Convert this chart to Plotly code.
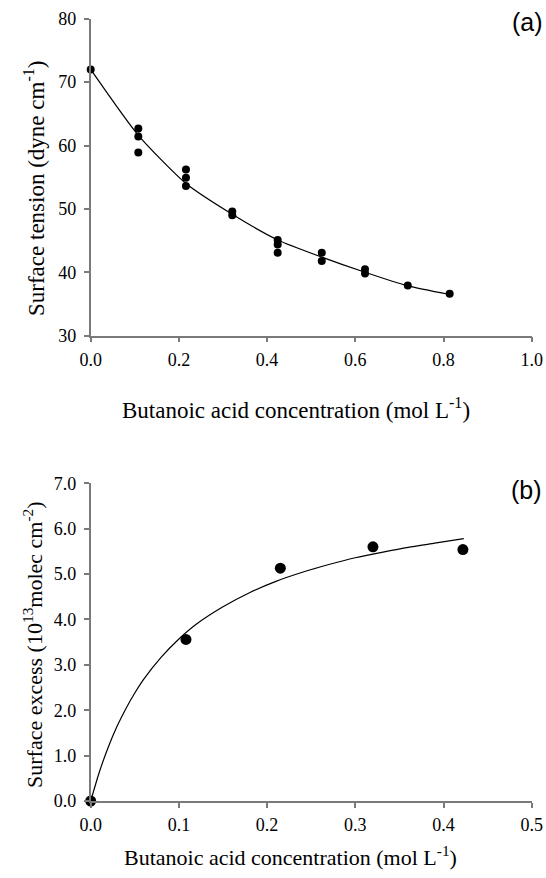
import plotly.graph_objects as go

# ---- Panel (a): surface tension ----
a_conc = [0.0, 0.108, 0.108, 0.108, 0.216, 0.216, 0.216, 0.321, 0.321,
          0.424, 0.424, 0.424, 0.524, 0.524, 0.622, 0.622, 0.719, 0.814]
a_tension = [72.0, 62.7, 61.4, 58.9, 56.2, 54.9, 53.6, 49.6, 49.0,
             45.1, 44.4, 43.1, 43.1, 41.8, 40.5, 39.8, 37.9, 36.6]
a_fit_conc = [0.0, 0.108, 0.216, 0.321, 0.424, 0.524, 0.622, 0.719, 0.814]
a_fit_tension = [72.0, 61.6, 54.0, 49.15, 45.1, 42.4, 40.0, 37.85, 36.5]

# ---- Panel (b): surface excess ----
b_conc = [0.0, 0.108, 0.215, 0.320, 0.422]
b_excess = [0.0, 3.56, 5.13, 5.60, 5.54]
b_fit_conc = [0.0, 0.01, 0.02, 0.03, 0.04, 0.05, 0.06, 0.08, 0.10, 0.12, 0.15,
              0.18, 0.21, 0.24, 0.27, 0.30, 0.33, 0.36, 0.39, 0.423]
b_fit_excess = [0.0, 0.65, 1.19, 1.65, 2.04, 2.38, 2.68, 3.17, 3.57, 3.90, 4.28,
                4.59, 4.84, 5.04, 5.21, 5.36, 5.48, 5.59, 5.68, 5.78]

a_xticks = [0.0, 0.2, 0.4, 0.6, 0.8, 1.0]
a_yticks = [30, 40, 50, 60, 70, 80]
b_xticks = [0.0, 0.1, 0.2, 0.3, 0.4, 0.5]
b_yticks = [0.0, 1.0, 2.0, 3.0, 4.0, 5.0, 6.0, 7.0]

W, H = 546, 878
SERIF = "Liberation Serif, Times New Roman, serif"
SANS = "Liberation Sans, Arial, sans-serif"
AXC = "#7a7a7a"

fig = go.Figure()
fig.add_trace(go.Scatter(x=a_fit_conc, y=a_fit_tension, mode="lines",
                         line=dict(color="black", width=1.2, shape="spline", smoothing=0.6),
                         xaxis="x", yaxis="y", showlegend=False, cliponaxis=False))
fig.add_trace(go.Scatter(x=a_conc, y=a_tension, mode="markers",
                         marker=dict(color="black", size=8),
                         xaxis="x", yaxis="y", showlegend=False, cliponaxis=False))
fig.add_trace(go.Scatter(x=b_fit_conc, y=b_fit_excess, mode="lines",
                         line=dict(color="black", width=1.2, shape="spline", smoothing=0.6),
                         xaxis="x2", yaxis="y2", showlegend=False, cliponaxis=False))
fig.add_trace(go.Scatter(x=b_conc, y=b_excess, mode="markers",
                         marker=dict(color="black", size=11),
                         xaxis="x2", yaxis="y2", showlegend=False, cliponaxis=False))

xd = [90.7 / W, 531.7 / W]
ya = [1 - 335.7 / H, 1 - 18.7 / H]
yb = [1 - 801.0 / H, 1 - 483.3 / H]

common = dict(showgrid=False, zeroline=False, showline=True, linecolor=AXC, linewidth=1.5,
              ticks="outside", ticklen=5, tickwidth=1.5, tickcolor=AXC,
              tickfont=dict(family=SERIF, size=18, color="black"), automargin=False)

fig.update_layout(
    width=W, height=H, margin=dict(l=0, r=0, t=0, b=0),
    font=dict(family=SERIF, size=18, color="black"),
    paper_bgcolor="white", plot_bgcolor="white",
    xaxis=dict(domain=xd, anchor="y", range=[0, 1.0], tickvals=a_xticks,
               ticktext=[f"{v:.1f}" for v in a_xticks], ticklabelstandoff=2, **common),
    yaxis=dict(domain=ya, anchor="x", range=[30, 80], tickvals=a_yticks,
               ticktext=[str(v) for v in a_yticks], ticklabelstandoff=4, **common),
    xaxis2=dict(domain=xd, anchor="y2", range=[0, 0.5], tickvals=b_xticks,
                ticktext=[f"{v:.1f}" for v in b_xticks], ticklabelstandoff=2, **common),
    yaxis2=dict(domain=yb, anchor="x2", range=[0, 7], tickvals=b_yticks,
                ticktext=[f"{v:.1f}" for v in b_yticks], ticklabelstandoff=4, **common),
)

ann = [
    dict(text="Butanoic acid concentration (mol L<sup>-1</sup>)", x=(118 + 474) / 2 / W,
         y=1 - 409 / H, font=dict(family=SERIF, size=23, color="black")),
    dict(text="Surface tension (dyne cm<sup>-1</sup>)", x=35 / W, y=1 - 189 / H,
         textangle=-90, font=dict(family=SERIF, size=23, color="black")),
    dict(text="(a)", x=527 / W, y=1 - 22 / H, font=dict(family=SANS, size=25, color="black")),
    dict(text="Butanoic acid concentration (mol L<sup>-1</sup>)", x=(123 + 458) / 2 / W,
         y=1 - 856 / H, font=dict(family=SERIF, size=22, color="black")),
    dict(text="Surface excess (10<sup>13</sup>molec cm<sup>-2</sup>)", x=33 / W, y=1 - 645 / H,
         textangle=-90, font=dict(family=SERIF, size=22, color="black")),
    dict(text="(b)", x=526 / W, y=1 - 490 / H, font=dict(family=SANS, size=25, color="black")),
]
for a in ann:
    fig.add_annotation(xref="paper", yref="paper", showarrow=False,
                       xanchor="center", yanchor="middle", **a)

fig.write_html("out.html")
